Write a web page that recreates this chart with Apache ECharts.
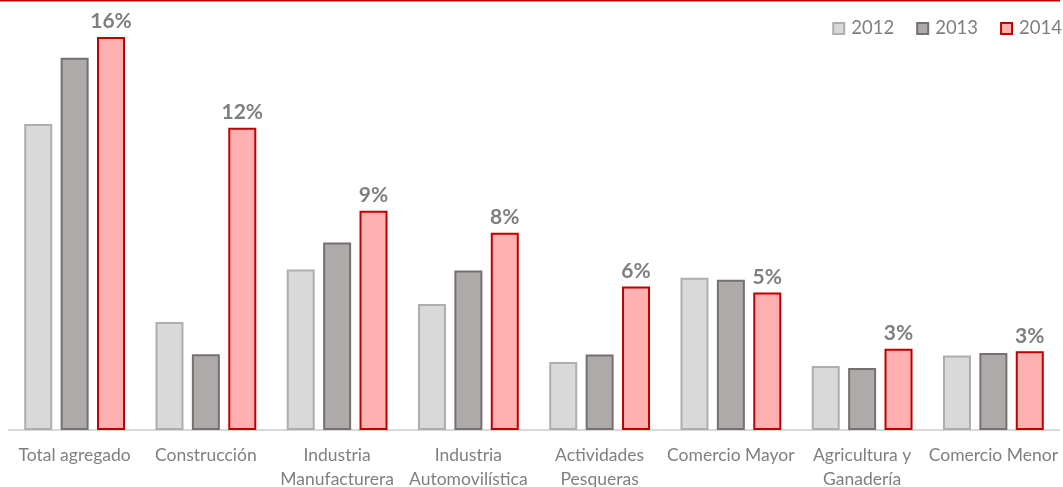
<!DOCTYPE html>
<html>
<head>
<meta charset="utf-8">
<script src="https://cdn.jsdelivr.net/npm/echarts@6/dist/echarts.min.js"></script>
<style>
  html, body { margin: 0; padding: 0; background: #ffffff; }
  #chart { width: 1063px; height: 487px; }
</style>
</head>
<body>
<div id="chart"></div>
<script>
// Sectors and yearly growth (%)
const categories = [
  'Total agregado',
  'Construcción',
  'Industria\nManufacturera',
  'Industria\nAutomovilística',
  'Actividades\nPesqueras',
  'Comercio Mayor',
  'Agricultura y\nGanadería',
  'Comercio Menor'
];
const years = ['2012', '2013', '2014'];
const values2012 = [12.10, 4.27, 6.35, 4.98, 2.69, 6.02, 2.53, 2.95];
const values2013 = [14.72, 2.99, 7.41, 6.31, 2.98, 5.94, 2.45, 3.04];
const values2014 = [15.54, 11.95, 8.67, 7.80, 5.67, 5.44, 3.21, 3.11];

const FONT = 'Lato, "Liberation Sans", sans-serif';
const TEXT_GREY = '#7f7f7f';

const styles = [
  { color: '#d9d9d9', borderColor: '#aeaeae' },
  { color: '#aeaaaa', borderColor: '#767171' },
  { color: '#ffb1b1', borderColor: '#c00000' }
];

function makeSeries(name, data, style, withLabel) {
  return {
    name: name,
    type: 'bar',
    data: data,
    barWidth: 28,
    barGap: '30%',
    itemStyle: { color: style.color, borderColor: style.borderColor, borderWidth: 2 },
    label: {
      show: withLabel,
      position: 'top',
      distance: 5,
      color: TEXT_GREY,
      fontFamily: FONT,
      fontWeight: 'bold',
      fontSize: 21,
      formatter: p => Math.round(p.value) + '%'
    },
    emphasis: { disabled: true }
  };
}

const chart = echarts.init(document.getElementById('chart'), null, { renderer: 'canvas' });
chart.setOption({
  animation: false,
  backgroundColor: '#ffffff',
  graphic: [{
    type: 'rect',
    left: 0, top: 0,
    shape: { width: 1060, height: 1.5 },
    style: { fill: '#c00000' },
    silent: true
  }],
  legend: {
    data: years,
    right: 1,
    top: 19,
    padding: 0,
    itemWidth: 11,
    itemHeight: 11,
    itemGap: 22,
    icon: 'rect',
    textStyle: { color: TEXT_GREY, fontFamily: FONT, fontSize: 18.5, padding: [0, 0, 0, 2] }
  },
  grid: { left: 9, right: 4, top: 0, bottom: 57, containLabel: false, outerBoundsMode: 'none' },
  xAxis: {
    type: 'category',
    data: categories,
    axisTick: { show: false },
    axisLine: { lineStyle: { color: '#d9d9d9', width: 2 } },
    axisLabel: {
      interval: 0,
      margin: 14,
      color: TEXT_GREY,
      fontFamily: FONT,
      fontSize: 17.5,
      lineHeight: 23.5
    }
  },
  yAxis: {
    type: 'value',
    min: 0,
    max: 17,
    show: false,
    splitLine: { show: false }
  },
  series: [
    makeSeries(years[0], values2012, styles[0], false),
    makeSeries(years[1], values2013, styles[1], false),
    makeSeries(years[2], values2014, styles[2], true)
  ]
});
</script>
</body>
</html>
